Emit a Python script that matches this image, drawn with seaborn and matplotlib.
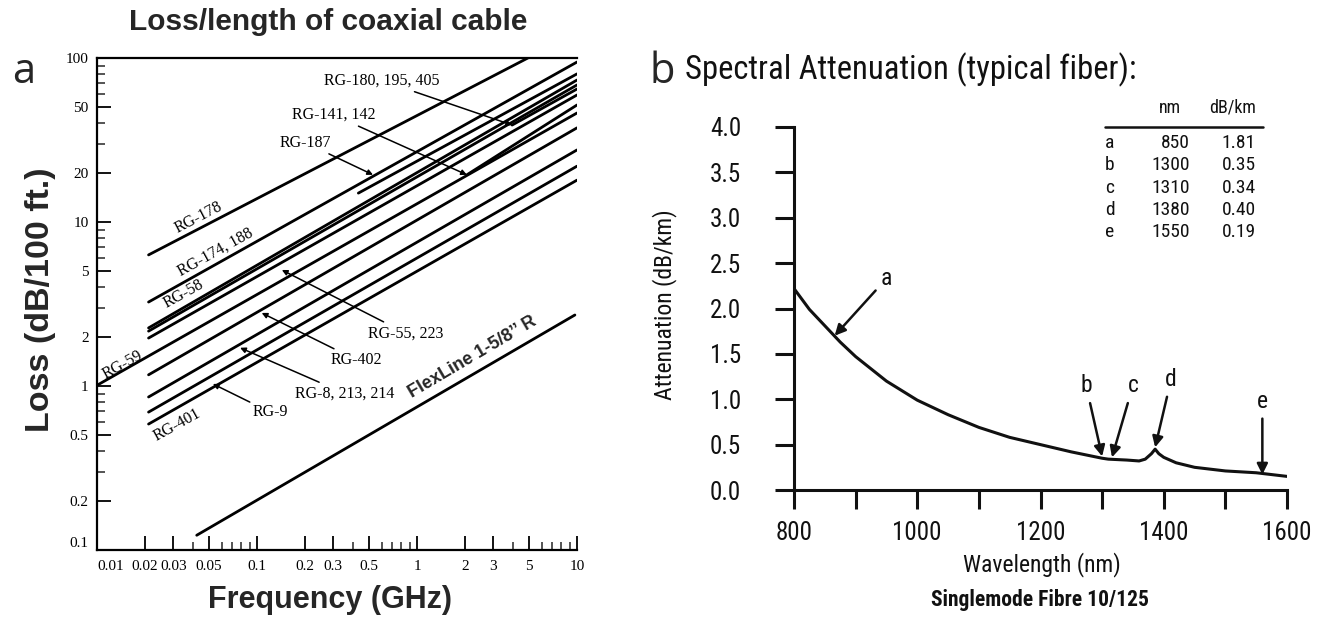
import matplotlib
matplotlib.use("Agg")
import matplotlib.pyplot as plt
from matplotlib import font_manager as fm
from matplotlib.ticker import FixedLocator, FixedFormatter, NullFormatter, FormatStrFormatter
import numpy as np
import pandas as pd
import seaborn as sns

sns.set_theme(style="ticks")

_names = {f.name for f in fm.fontManager.ttflist}


def pick(*cands):
    for c in cands:
        if c in _names:
            return c
    return "DejaVu Sans"


SERIF = pick("Liberation Serif", "DejaVu Serif")
SANS = pick("Liberation Sans", "Arial", "DejaVu Sans")
NARROW = pick("Liberation Sans Narrow", "Roboto Condensed", "DejaVu Sans")
LETTER = pick("Open Sans", "Lato", "DejaVu Sans")
plt.rcParams["font.family"] = [SANS, "DejaVu Sans"]

# ---- coaxial cable loss lines (start / end points on log-log axes) ----
cables = ["RG-178", "RG-174, 188", "RG-58 (a)", "RG-58 (b)", "RG-55, 223",
          "RG-59", "RG-402", "RG-8, 213, 214", "RG-9", "RG-401",
          "RG-187", "RG-141, 142", "RG-180, 195, 405", "FlexLine"]
start_freq = [0.021, 0.021, 0.021, 0.021, 0.021,
              0.010, 0.021, 0.021, 0.021, 0.021,
              0.43, 2.05, 3.93, 0.042]
start_loss = [6.3, 3.25, 2.26, 2.16, 1.96,
              1.01, 1.17, 0.857, 0.693, 0.586,
              15.0, 19.4, 39.0, 0.123]
end_freq = [4.93, 10.0, 10.0, 10.0, 10.0,
            10.0, 10.0, 10.0, 10.0, 10.0,
            10.0, 10.0, 10.0, 9.7]
end_loss = [100.0, 94.5, 73.4, 68.5, 59.5,
            46.2, 37.5, 27.5, 21.9, 18.0,
            80.0, 51.7, 64.7, 2.71]

freq_ticks = [0.01, 0.02, 0.03, 0.05, 0.1, 0.2, 0.3, 0.5, 1, 2, 3, 5, 10]
freq_labels = ["0.01", "0.02", "0.03", "0.05", "0.1", "0.2", "0.3", "0.5",
               "1", "2", "3", "5", "10"]
loss_ticks = [0.1, 0.2, 0.5, 1, 2, 5, 10, 20, 50, 100]
loss_labels = ["0.1", "0.2", "0.5", "1", "2", "5", "10", "20", "50", "100"]

# ---- fibre spectral attenuation ----
wavelength = [800, 825, 850, 875, 900, 950, 1000, 1050, 1100, 1150, 1200,
              1250, 1300, 1310, 1340, 1360, 1370, 1380, 1386, 1392, 1400,
              1420, 1450, 1500, 1550, 1600]
attenuation = [2.22, 1.99, 1.81, 1.63, 1.47, 1.20, 0.99, 0.83, 0.69, 0.58,
               0.50, 0.42, 0.35, 0.34, 0.33, 0.32, 0.34, 0.40, 0.45, 0.40,
               0.36, 0.30, 0.25, 0.21, 0.19, 0.15]
table_keys = ["a", "b", "c", "d", "e"]
table_nm = ["850", "1300", "1310", "1380", "1550"]
table_db = ["1.81", "0.35", "0.34", "0.40", "0.19"]

W, H = 1319, 622
fig = plt.figure(figsize=(W / 100, H / 100), dpi=100)
fig.patch.set_facecolor("white")


def fx(px):
    return px / W


def fy(py):
    return 1 - py / H


# ======================= panel a =======================
axa = fig.add_axes([fx(97), fy(550), 480 / W, 492 / H])
rows = []
for name, f0, l0, f1, l1 in zip(cables, start_freq, start_loss, end_freq, end_loss):
    rows.append({"cable": name, "freq": f0, "loss": l0})
    rows.append({"cable": name, "freq": f1, "loss": l1})
coax = pd.DataFrame(rows)
sns.lineplot(data=coax, x="freq", y="loss", units="cable", estimator=None,
             color="black", lw=2.0, ax=axa, legend=False)
axa.set_xscale("log")
axa.set_yscale("log")
axa.set_xlim(0.01, 10)
axa.set_ylim(0.1, 100)
axa.set_xlabel("")
axa.set_ylabel("")
axa.set_facecolor("white")
for side in ["left", "bottom", "top"]:
    axa.spines[side].set_linewidth(1.6)
    axa.spines[side].set_color("black")
axa.spines["right"].set_visible(False)

axa.xaxis.set_major_locator(FixedLocator(freq_ticks))
axa.xaxis.set_major_formatter(FixedFormatter(freq_labels))
axa.yaxis.set_major_locator(FixedLocator(loss_ticks))
axa.yaxis.set_major_formatter(FixedFormatter(loss_labels))
minor_x = [m * d for d in (0.01, 0.1, 1) for m in (4, 6, 7, 8, 9)]
minor_y = [m * d for d in (0.1, 1, 10) for m in (3, 4, 6, 7, 8, 9)]
axa.xaxis.set_minor_locator(FixedLocator(minor_x))
axa.yaxis.set_minor_locator(FixedLocator(minor_y))
axa.xaxis.set_minor_formatter(NullFormatter())
axa.yaxis.set_minor_formatter(NullFormatter())
axa.tick_params(axis="both", which="major", direction="in", length=10, width=1.3,
                labelsize=11, colors="black")
axa.tick_params(axis="x", which="major", pad=7)
axa.tick_params(axis="y", which="major", pad=6)
axa.tick_params(axis="both", which="minor", direction="in", length=6, width=1.1)
axa.tick_params(axis="x", top=False, which="both")
for lab in axa.get_xticklabels() + axa.get_yticklabels():
    lab.set_fontfamily(SERIF)
# keep the corner labels apart
xt = axa.get_xticklabels()
xt[0].set_horizontalalignment("left")
yt = axa.get_yticklabels()
yt[0].set_verticalalignment("bottom")

rot = 29
serif_kw = dict(fontfamily=SERIF, fontsize=11.5, color="black")
axa.text(0.0434, 10.6, "RG-178", rotation=27.5, ha="center", va="center", **serif_kw)
axa.text(0.0547, 6.57, "RG-174, 188", rotation=rot, ha="center", va="center", **serif_kw)
axa.text(0.035, 3.64, "RG-58", rotation=rot, ha="center", va="center", **serif_kw)
axa.text(0.0145, 1.34, "RG-59", rotation=rot, ha="center", va="center", **serif_kw)
axa.text(0.0316, 0.578, "RG-401", rotation=rot, ha="center", va="center", **serif_kw)

arrow_kw = dict(arrowstyle="-|>", color="black", lw=1.1, mutation_scale=8,
                shrinkA=0, shrinkB=0)
pointers = [
    ("RG-9", (0.053, 1.03), (0.122, 0.69)),
    ("RG-8, 213, 214", (0.0784, 1.71), (0.355, 0.90)),
    ("RG-402", (0.107, 2.79), (0.42, 1.44)),
    ("RG-55, 223", (0.143, 5.1), (0.85, 2.1)),
    ("RG-187", (0.531, 19.4), (0.20, 30.5)),
    ("RG-141, 142", (2.05, 19.4), (0.30, 45.0)),
    ("RG-180, 195, 405", (3.93, 39.0), (0.60, 73.0)),
]
for text, tip, where in pointers:
    axa.annotate(text, xy=tip, xytext=where, ha="center", va="center",
                 arrowprops=arrow_kw, **serif_kw)

axa.text(2.21, 1.50, "FlexLine 1-5/8\u2019\u2019 R", rotation=30.5, ha="center",
         va="center", fontsize=13, fontweight="bold", fontfamily=SANS)

fig.text(fx(328), fy(22), "Loss/length of coaxial cable", ha="center",
         va="center", fontsize=21.5, fontweight="bold", fontfamily=SANS)
fig.text(fx(41), fy(300), "Loss (dB/100 ft.)", rotation=90, ha="center",
         va="center", fontsize=24.5, fontweight="bold", fontfamily=SANS)
fig.text(fx(330), fy(600), "Frequency (GHz)", ha="center", va="center",
         fontsize=22, fontweight="bold", fontfamily=SANS)
fig.text(fx(24), fy(72), "a", ha="center", va="center", fontsize=30,
         fontfamily=LETTER)

# ======================= panel b =======================
axb = fig.add_axes([fx(794), fy(490), 493 / W, 363 / H])
sns.lineplot(x=wavelength, y=attenuation, color="#111111", lw=2.2, ax=axb)
axb.set_xlim(800, 1600)
axb.set_ylim(0, 4.0)
axb.set_facecolor("white")
axb.spines["top"].set_visible(False)
axb.spines["right"].set_visible(False)
for side in ["left", "bottom"]:
    axb.spines[side].set_linewidth(2.2)
    axb.spines[side].set_color("#111111")
axb.xaxis.set_major_locator(FixedLocator([800, 1000, 1200, 1400, 1600]))
axb.xaxis.set_minor_locator(FixedLocator([900, 1100, 1300, 1500]))
axb.yaxis.set_major_locator(FixedLocator(np.arange(0, 4.01, 0.5)))
axb.yaxis.set_major_formatter(FormatStrFormatter("%.1f"))
axb.tick_params(axis="both", which="both", direction="out", length=14,
                width=2.2, colors="#111111", labelsize=18, pad=8)
axb.tick_params(axis="y", pad=24)
for lab in axb.get_xticklabels() + axb.get_yticklabels():
    lab.set_fontfamily(NARROW)
axb.set_xlabel("")
axb.set_ylabel("")

narrow_kw = dict(fontfamily=NARROW, color="#111111")
barrow = dict(arrowstyle="-|>", color="#111111", lw=1.8, mutation_scale=16,
              shrinkA=2, shrinkB=0)
fibre_marks = [
    ("a", (866, 1.70), (950, 2.33)),
    ("b", (1300, 0.37), (1274, 1.15)),
    ("c", (1316, 0.36), (1350, 1.15)),
    ("d", (1386, 0.47), (1412, 1.22)),
    ("e", (1560, 0.17), (1560, 0.98)),
]
for text, tip, where in fibre_marks:
    axb.annotate(text, xy=tip, xytext=where, ha="center", va="center",
                 fontsize=17, arrowprops=barrow, **narrow_kw)

# inset table
fig.text(fx(1170), fy(108), "nm", ha="center", va="center", fontsize=13, **narrow_kw)
fig.text(fx(1233), fy(108), "dB/km", ha="center", va="center", fontsize=13, **narrow_kw)
fig.add_artist(plt.Line2D([fx(1105), fx(1263)], [fy(127), fy(127)],
                          color="#111111", lw=1.8))
for i, (k, n, d) in enumerate(zip(table_keys, table_nm, table_db)):
    yy = fy(143 + i * 22.3)
    fig.text(fx(1110), yy, k, ha="center", va="center", fontsize=14, **narrow_kw)
    fig.text(fx(1190), yy, n, ha="right", va="center", fontsize=14, **narrow_kw)
    fig.text(fx(1256), yy, d, ha="right", va="center", fontsize=14, **narrow_kw)

fig.text(fx(685), fy(70), "Spectral Attenuation (typical fiber):", ha="left",
         va="center", fontsize=23.5, **narrow_kw)
fig.text(fx(1042), fy(565), "Wavelength (nm)", ha="center", va="center",
         fontsize=17, **narrow_kw)
fig.text(fx(665), fy(305), "Attenuation (dB/km)", rotation=90, ha="center",
         va="center", fontsize=17, **narrow_kw)
fig.text(fx(1040), fy(600), "Singlemode Fibre 10/125", ha="center", va="center",
         fontsize=15.5, fontweight="bold", **narrow_kw)
fig.text(fx(662), fy(72), "b", ha="center", va="center", fontsize=30,
         fontfamily=LETTER)

fig.savefig("out.png", dpi=100, facecolor="white")
